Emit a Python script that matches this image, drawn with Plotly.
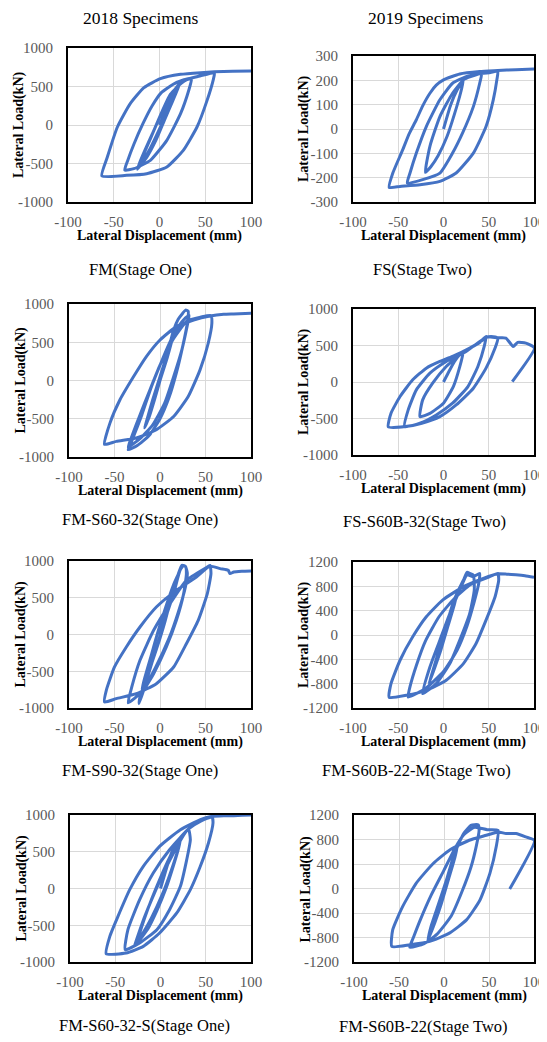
import plotly.graph_objects as go

W, H = 547, 1042          # reference picture size
OFF = 8                   # page body margin of the html page
FW, FH = W - OFF, H - OFF # figure size so that the figure ends at the window edge

# ---------------- data (displacement mm, load kN) ----------------
FM_pts = [(0,0),(8,220),(16,430),(22,540),(20,470),(14,300),(6,80),(-4,-200),(-14,-420),(-24,-570),
          (-22,-500),(-16,-330),(-8,-120),(2,150),(12,380),(22,540),(20,480),(12,260),(2,0),(-10,-300),
          (-24,-575),(-20,-450),(-10,-180),(0,100),(12,400),(24,545),
          (30,590),(35,600),(32,451),(23,147),(8,-199),(-10,-459),(-28,-567),(-38,-585),(-35,-470),
          (-28,-250),(-18,20),(-8,250),(2,420),(15,530),(26,585),(35,610),
          (45,640),(60,672),(59,600),(52,320),(41,-26),(26,-329),(8,-545),(-14,-632),(-36,-654),(-63,-660),
          (-57,-416),(-46,-26),(-32,277),(-17,485),(1,602),(23,658),(45,680),(60,690),(80,697),(100,702)]

FS_pts = [(0,0),(8,100),(15,160),(22,200),(19,150),(12,60),(4,-30),(-6,-110),(-14,-155),(-20,-178),
          (-15,-71),(-4,51),(10,147),(22,202),
          (30,215),(42,226),(40,188),(33,92),(21,-17),(10,-99),(-4,-181),(-23,-208),(-40,-222),
          (-37,-181),(-30,-99),(-19,10),(-4,120),(10,188),(25,215),(42,228),
          (52,232),(60,237),(59,203),(55,120),(47,10),(33,-99),(14,-181),(-4,-215),(-26,-229),(-48,-236),(-60,-240),
          (-56,-181),(-45,-85),(-38,-20),(-30,38),(-23,95),(-15,147),(-8,180),(0,202),(18,226),(40,236),
          (60,240),(80,244),(100,247)]

FM_S60_32_pts = [(0,0),(6,250),(12,480),(16,650),(14,560),(8,300),(0,0),(-6,-250),(-12,-480),(-17,-620),
                 (-14,-500),(-8,-250),(0,50),(8,350),(15,660),
                 (20,800),(25,880),(28,920),(31,905),(30,750),(25,450),(18,100),(10,-220),(0,-500),(-12,-720),
                 (-25,-850),(-35,-905),(-33,-850),(-28,-700),(-20,-450),(-10,-100),(0,200),(10,480),(20,700),(28,820),
                 (32,850),(30,720),(24,400),(15,50),(5,-300),(-8,-580),(-22,-760),(-35,-870),(-30,-700),
                 (-22,-450),(-12,-150),(0,200),(15,550),(30,780),
                 (45,830),(56,850),(57,748),(53,487),(44,139),(31,-209),(15,-470),(-4,-643),(-26,-752),(-48,-796),
                 (-61,-835),(-55,-557),(-44,-252),(-29,52),(-15,313),(0,530),(18,704),(37,791),(55,843),
                 (70,866),(81,870),(100,878)]

FS_S60B_32_pts = [(0,0),(5,120),(12,280),(20,400),(22,420),(18,210),(11,-60),(0,-290),(-15,-430),(-26,-475),
                  (-23,-245),(-12,-16),(3,213),(18,373),(22,420),
                  (30,470),(40,540),(47,625),(45,487),(38,213),(27,-62),(10,-291),(-8,-451),(-26,-565),(-43,-611),
                  (-39,-382),(-30,-108),(-15,121),(3,281),(25,419),(47,610),
                  (55,620),(60,600),(57,465),(47,190),(33,-85),(14,-314),(-4,-474),(-24,-565),(-42,-611),(-61,-615),
                  (-58,-428),(-48,-199),(-34,30),(-19,190),(-4,281),(10,350),(29,464),(44,579),(49,620),(60,605),
                  (69,602),(77,487),(82,542),(91,533),(100.5,465),(76,5)]

FM_S90_32_pts = [(0,0),(5,250),(10,500),(14,650),(12,500),(6,200),(0,-50),(-8,-350),(-15,-600),(-20,-750),
                 (-17,-600),(-10,-300),(-2,50),(7,400),(15,680),
                 (20,820),(24,941),(28,927),(29,828),(26,556),(18,193),(7,-170),(-7,-533),(-22,-850),(-23,-941),
                 (-18,-760),(-7,-306),(4,147),(15,556),(22,873),(26,940),(28,925),
                 (30,840),(28,650),(20,300),(10,-50),(-5,-450),(-20,-780),(-35,-930),(-31,-714),(-22,-351),
                 (-7,57),(11,420),(29,737),(52,918),(55,941),
                 (56,828),(52,556),(42,193),(29,-125),(15,-442),(-4,-669),(-26,-805),(-48,-873),(-61,-918),
                 (-59,-760),(-50,-442),(-37,-170),(-22,102),(-4,374),(18,601),(40,782),(55,930),(66,896),
                 (75,873),(77,828),(81,850),(90,860),(100,864)]

FM_S60B_22_M_pts = [(0,0),(5,250),(10,500),(15,700),(12,500),(5,150),(-3,-250),(-10,-550),(-16,-800),
                    (-12,-600),(-5,-250),(3,150),(10,500),(16,720),
                    (22,900),(26,1030),(29,1013),(33,986),(34,739),(29,354),(18,-85),(7,-470),(-8,-799),(-23,-964),
                    (-15,-525),(-4,-85),(7,354),(18,739),(26,990),
                    (33,960),(40,1013),(39,850),(34,550),(26,150),(15,-250),(0,-600),(-20,-880),(-39,-1019),
                    (-37,-850),(-30,-500),(-20,-100),(-5,300),(12,600),(30,830),(50,950),(60,1013),
                    (61,903),(57,629),(47,244),(36,-140),(22,-470),(3,-744),(-19,-909),(-41,-991),(-60,-1025),
                    (-58,-799),(-48,-415),(-34,-30),(-19,299),(-1,574),(22,794),(44,931),(60,1005),(70,1000),
                    (80,990),(90,975),(100,950)]

FM_S60_32_S_pts = [(0,0),(6,250),(12,480),(18,620),(22,664),(20,550),(14,300),(6,0),(-4,-300),(-14,-550),
                   (-26,-741),(-24,-650),(-18,-420),(-10,-150),(0,150),(10,420),(18,600),(22,670),(20,560),
                   (12,250),(2,-80),(-10,-400),(-20,-620),(-29,-787),(-26,-680),(-18,-400),(-8,-100),(4,230),
                   (16,520),(27,755),
                   (31,810),(33,664),(29,393),(22,30),(10,-288),(-4,-560),(-23,-741),(-39,-832),(-36,-560),
                   (-23,-152),(-8,211),(10,528),(31,810),
                   (45,920),(57,973),(58,891),(53,619),(44,302),(33,-16),(18,-333),(-1,-605),(-19,-787),
                   (-38,-878),(-60,-887),(-56,-651),(-47,-379),(-34,-16),(-19,302),(-1,574),(22,800),(44,937),
                   (57,982),(70,990),(81,991),(90,995),(100,1000)]

FM_S60B_22_pts = [(0,0),(5,250),(10,500),(15,700),(12,500),(5,150),(-3,-250),(-10,-550),(-18,-850),
                  (-14,-600),(-6,-250),(3,150),(10,500),(16,720),
                  (22,900),(30,1030),(34,1043),(38,1040),(39,950),(36,700),(30,350),(20,-50),(8,-450),(-8,-750),
                  (-22,-900),(-38,-960),(-34,-800),(-26,-500),(-14,-100),(0,300),(12,650),(22,880),(34,1000),
                  (48,960),(60,950),(58,680),(51,246),(40,-187),(25,-512),(6,-729),(-16,-864),(-38,-918),
                  (-58,-946),(-57,-675),(-46,-296),(-31,84),(-12,409),(6,626),(28,788),(47,869),(60,924),
                  (69,897),(80,897),(91,842),(100.5,785),(73,-8)]

x_ticks = [-100, -50, 0, 50, 100]
y_ticks_1000 = [-1000, -500, 0, 500, 1000]
y_ticks_300 = [-300, -200, -100, 0, 100, 200, 300]
y_ticks_1200 = [-1200, -800, -400, 0, 400, 800, 1200]

captions = ["FM(Stage One)", "FS(Stage Two)", "FM-S60-32(Stage One)", "FS-S60B-32(Stage Two)",
            "FM-S90-32(Stage One)", "FM-S60B-22-M(Stage Two)", "FM-S60-32-S(Stage One)", "FM-S60B-22(Stage Two)"]
headers = ["2018 Specimens", "2019 Specimens"]

# ---------------- layout (pixel boxes in the window: left, right, top, bottom) ----------------
panels = [
    (FM_pts,            (68, 251, 48, 202),  y_ticks_1000, (140, 269)),
    (FS_pts,            (353, 534, 56, 202), y_ticks_300,  (422, 269)),
    (FM_S60_32_pts,     (69, 251, 304, 457), y_ticks_1000, (140, 520)),
    (FS_S60B_32_pts,    (353, 534, 309, 455), y_ticks_1000, (424, 521)),
    (FM_S90_32_pts,     (69, 251, 561, 708), y_ticks_1000, (140, 770)),
    (FM_S60B_22_M_pts,  (353, 534, 562, 708), y_ticks_1200, (416, 770)),
    (FM_S60_32_S_pts,   (70, 251, 815, 962), y_ticks_1000, (144, 1025)),
    (FM_S60B_22_pts,    (354, 534, 815, 962), y_ticks_1200, (423, 1026)),
]

SERIF = "Liberation Serif, Times New Roman, serif"
BLUE = "#4472C4"

def px(x): return (x - OFF) / FW
def py(y): return 1 - (y - OFF) / FH
def labels(vals): return [str(v) for v in vals]   # plain hyphen minus, as in the picture

fig = go.Figure()
layout = dict(width=FW, height=FH, margin=dict(l=0, r=0, t=0, b=0, autoexpand=False),
              paper_bgcolor="white", plot_bgcolor="white", showlegend=False)
annotations = []

for i, (pts, (l, r, t, b), yt, (cx, cy)) in enumerate(panels):
    n = "" if i == 0 else str(i + 1)
    xs = [p[0] for p in pts]
    ys = [p[1] for p in pts]
    fig.add_trace(go.Scatter(x=xs, y=ys, mode="lines", xaxis="x" + n, yaxis="y" + n,
                             line=dict(color=BLUE, width=3, shape="spline", smoothing=0.5),
                             hoverinfo="skip"))
    axcommon = dict(showline=True, mirror=True, linecolor="black", linewidth=2, automargin=False,
                    showgrid=True, gridcolor="#d9d9d9", gridwidth=1, zeroline=False,
                    ticks="outside", ticklen=5, tickcolor="rgba(0,0,0,0)",
                    tickfont=dict(family=SERIF, size=15, color="#595959"))
    layout["xaxis" + n] = dict(axcommon, domain=[px(l), px(r)], anchor="y" + n,
                               range=[x_ticks[0], x_ticks[-1]], tickvals=x_ticks, ticktext=labels(x_ticks))
    layout["yaxis" + n] = dict(axcommon, domain=[py(b), py(t)], anchor="x" + n,
                               range=[yt[0], yt[-1]], tickvals=yt, ticktext=labels(yt), ticklen=10)
    annotations.append(dict(text="<b>Lateral Displacement (mm)</b>", x=px((l + r) / 2), y=py(b + 34),
                            xref="paper", yref="paper", showarrow=False, xanchor="center", yanchor="middle",
                            font=dict(family=SERIF, size=14, color="black")))
    annotations.append(dict(text="<b>Lateral Load(kN)</b>", x=px(l - 49), y=py((t + b) / 2),
                            xref="paper", yref="paper", showarrow=False, xanchor="center", yanchor="middle",
                            textangle=-90, font=dict(family=SERIF, size=14, color="black")))
    annotations.append(dict(text=captions[i], x=px(cx), y=py(cy), xref="paper", yref="paper",
                            showarrow=False, xanchor="center", yanchor="middle",
                            font=dict(family=SERIF, size=16.5, color="black")))

for txt, cx in zip(headers, [140, 425]):
    annotations.append(dict(text=txt, x=px(cx), y=py(18), xref="paper", yref="paper", showarrow=False,
                            xanchor="center", yanchor="middle", font=dict(family=SERIF, size=17.5, color="black")))

layout["annotations"] = annotations
fig.update_layout(**layout)
fig.write_html("out.html")
